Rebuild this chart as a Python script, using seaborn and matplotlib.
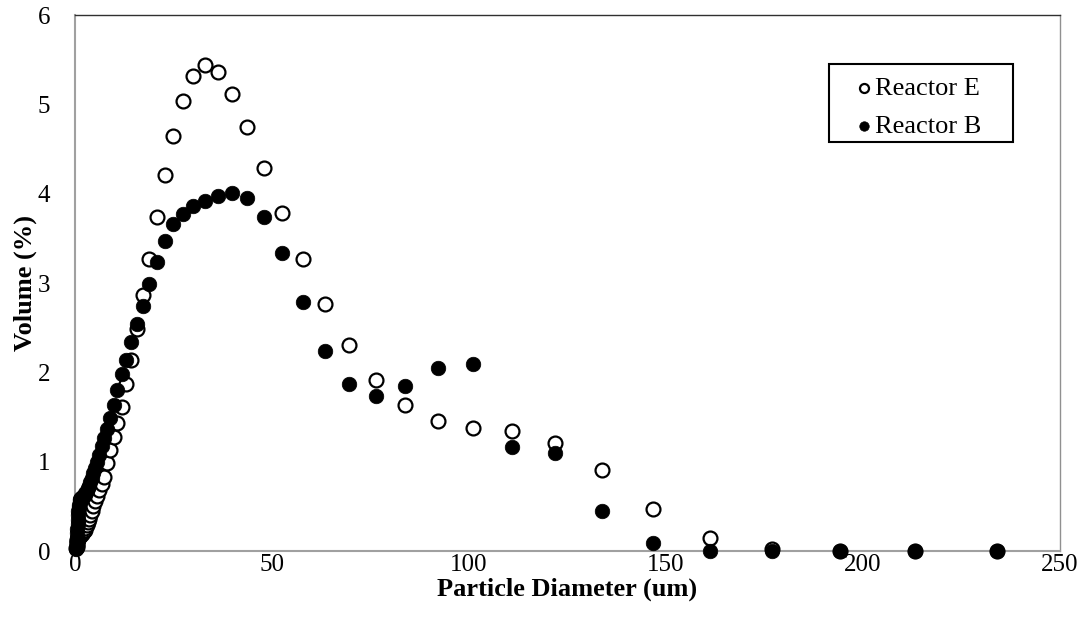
import numpy as np
import pandas as pd
import matplotlib
matplotlib.use("Agg")
import matplotlib.pyplot as plt
from matplotlib.patches import Rectangle
import seaborn as sns

# Particle size channels (um)
diameter = [0.375, 0.412, 0.452, 0.496, 0.545, 0.598, 0.657, 0.721, 0.791, 0.869,
            0.954, 1.047, 1.149, 1.261, 1.385, 1.520, 1.669, 1.832, 2.011, 2.208,
            2.423, 2.660, 2.920, 3.206, 3.519, 3.863, 4.240, 4.655, 5.110, 5.609,
            6.158, 6.760, 7.421, 8.147, 8.943, 9.817, 10.78, 11.83, 12.99, 14.26,
            15.65, 17.18, 18.86, 20.70, 22.73, 24.95, 27.39, 30.07, 33.01, 36.24,
            39.78, 43.67, 47.94, 52.62, 57.77, 63.41, 69.61, 76.42, 83.89, 92.09,
            101.1, 111.0, 121.8, 133.7, 146.8, 161.2, 176.9, 194.2, 213.2, 234.1]

reactor_e = [0.03, 0.05, 0.07, 0.09, 0.11, 0.12, 0.13, 0.14, 0.15, 0.16,
             0.16, 0.17, 0.17, 0.18, 0.18, 0.19, 0.19, 0.20, 0.21, 0.22,
             0.24, 0.26, 0.29, 0.32, 0.36, 0.40, 0.45, 0.50, 0.56, 0.62,
             0.68, 0.75, 0.83, 0.98, 1.13, 1.28, 1.43, 1.61, 1.87, 2.14,
             2.49, 2.87, 3.27, 3.74, 4.21, 4.65, 5.04, 5.32, 5.44, 5.36,
             5.12, 4.75, 4.29, 3.78, 3.27, 2.77, 2.31, 1.91, 1.63, 1.46,
             1.38, 1.34, 1.21, 0.91, 0.47, 0.15, 0.02, 0.00, 0.00, 0.00]

reactor_b = [0.02, 0.06, 0.10, 0.15, 0.20, 0.25, 0.30, 0.35, 0.40, 0.45,
             0.49, 0.52, 0.55, 0.57, 0.58, 0.59, 0.59, 0.60, 0.61, 0.62,
             0.63, 0.65, 0.67, 0.70, 0.73, 0.77, 0.82, 0.87, 0.93, 1.00,
             1.08, 1.17, 1.27, 1.37, 1.49, 1.64, 1.80, 1.98, 2.14, 2.34,
             2.54, 2.74, 2.99, 3.24, 3.47, 3.66, 3.77, 3.86, 3.92, 3.97,
             4.01, 3.95, 3.74, 3.34, 2.79, 2.24, 1.87, 1.74, 1.85, 2.05,
             2.09, 1.16, 1.10, 0.45, 0.09, 0.00, 0.00, 0.00, 0.00, 0.00]

x_ticks = [0, 50, 100, 150, 200, 250]
y_ticks = [0, 1, 2, 3, 4, 5, 6]

df = pd.DataFrame({"diameter": diameter, "E": reactor_e, "B": reactor_b})

sns.set_style("white")
plt.rcParams["font.family"] = ["Liberation Serif", "DejaVu Serif"]
plt.rcParams["text.color"] = "black"
plt.rcParams["axes.labelcolor"] = "black"
plt.rcParams["xtick.color"] = "black"
plt.rcParams["ytick.color"] = "black"

fig, ax = plt.subplots(figsize=(10.87, 6.28), dpi=100)
fig.subplots_adjust(left=0.069, right=0.975, top=0.976, bottom=0.1226)

sns.scatterplot(data=df, x="diameter", y="E", ax=ax, marker="o", s=100,
                color="white", edgecolor="black", linewidth=1.6,
                label="Reactor E", zorder=3, clip_on=False)
sns.scatterplot(data=df, x="diameter", y="B", ax=ax, marker="o", s=110,
                color="black", edgecolor="black", linewidth=0.5,
                label="Reactor B", zorder=4, clip_on=False)

ax.set_xlim(0, 250)
ax.set_ylim(0, 6)
ax.set_xticks(x_ticks)
ax.set_yticks(y_ticks)
ax.tick_params(axis="both", length=0, labelsize=18, labelcolor="black")
ax.tick_params(axis="y", pad=18)
ax.tick_params(axis="x", pad=2)

ax.set_xlabel("Particle Diameter (um)", fontsize=19, fontweight="bold", labelpad=1)
ax.set_ylabel("Volume (%)", fontsize=19, fontweight="bold", va="center")
ax.yaxis.set_label_coords(-0.050, 0.5)

for side in ["left", "bottom"]:
    ax.spines[side].set_color("#A0A0A0")
    ax.spines[side].set_linewidth(1.5)
ax.spines["top"].set_color("#303030")
ax.spines["top"].set_linewidth(1.0)
ax.spines["right"].set_color("#909090")
ax.spines["right"].set_linewidth(1.0)

leg = ax.legend(loc="upper left", bbox_to_anchor=(0.794, 0.886), borderaxespad=0,
                fontsize=19, markerscale=0.65, handlelength=0.55, handletextpad=0.12,
                borderpad=0, labelspacing=0.58, frameon=False)

# legend box outline
ax.add_patch(Rectangle((0.7655, 0.7631), 0.9523 - 0.7655, 0.9086 - 0.7631,
                       transform=ax.transAxes, fill=False, edgecolor="black",
                       linewidth=1.5, zorder=5, clip_on=False))

fig.savefig("out.png", dpi=100)
